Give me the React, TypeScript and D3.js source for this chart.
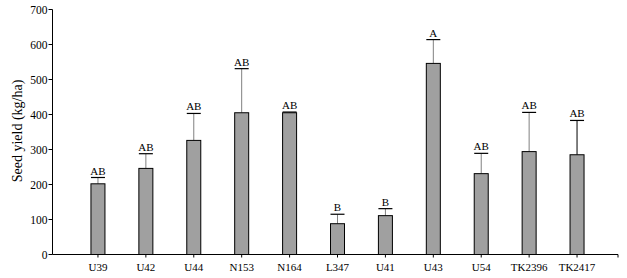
import React from 'react';
import * as d3 from 'd3';

const categories = ['U39', 'U42', 'U44', 'N153', 'N164', 'L347', 'U41', 'U43', 'U54', 'TK2396', 'TK2417'];
const yieldMeans = [202, 246, 326, 405, 405, 88, 111, 546, 231, 294, 285];
const yieldUpper = [220, 288, 403, 531, 407, 115, 131, 614, 289, 406, 383];
const groupLetters = ['AB', 'AB', 'AB', 'AB', 'AB', 'B', 'B', 'A', 'AB', 'AB', 'AB'];
const yTicks = [0, 100, 200, 300, 400, 500, 600, 700];

const W = 627;
const H = 278;
const FONT = '"Liberation Serif", "DejaVu Serif", serif';

export default function App() {
  // axis frame
  const axisX = 52.5;
  const axisY0 = 254.5;
  const axisX1 = 618;

  const y = d3.scaleLinear().domain([0, 700]).range([axisY0, 9.5]);
  const x = d3.scaleBand<string>().domain(categories).range([74, 601]);
  const barW = 14;

  return (
    <svg width={W} height={H} style={{ position: 'absolute', left: 0, top: 0, background: '#fff' }}>
      {/* y axis label */}
      <text
        transform={'translate(22,' + 131 + ') rotate(-90)'}
        textAnchor="middle"
        fontFamily={FONT}
        fontSize={14}
        fill="#000"
      >
        Seed yield (kg/ha)
      </text>

      {/* y axis */}
      <line x1={axisX} x2={axisX} y1={y(700)} y2={axisY0} stroke="#000" strokeWidth={1} />
      {yTicks.map((t) => (
        <g key={'yt' + t}>
          <line x1={axisX - 4} x2={axisX} y1={y(t)} y2={y(t)} stroke="#000" />
          <text x={axisX - 5} y={y(t) + 4} textAnchor="end" fontFamily={FONT} fontSize={11.5} fill="#000">
            {t}
          </text>
        </g>
      ))}

      {/* bars */}
      {categories.map((c, i) => {
        const cx = (x(c) as number) + x.bandwidth() / 2;
        const top = y(yieldMeans[i]);
        const capY = y(yieldUpper[i]);
        return (
          <g key={c}>
            <line x1={cx} x2={cx} y1={top} y2={capY} stroke={i === 10 ? '#000' : '#808080'} strokeWidth={1} />
            <line x1={cx - barW / 2} x2={cx + barW / 2} y1={capY} y2={capY} stroke="#000" strokeWidth={1.2} />
            <rect
              x={cx - barW / 2}
              y={top}
              width={barW}
              height={axisY0 - top}
              fill="#a0a0a0"
              stroke="#000"
              strokeWidth={1}
            />
            <text x={cx} y={capY - 3} textAnchor="middle" fontFamily={FONT} fontSize={11} fill="#000">
              {groupLetters[i]}
            </text>
          </g>
        );
      })}

      {/* x axis */}
      <line x1={axisX} x2={axisX1} y1={axisY0} y2={axisY0} stroke="#000" strokeWidth={1} />
      {categories.map((c) => {
        const cx = (x(c) as number) + x.bandwidth() / 2;
        return (
          <g key={'xt' + c}>
            <line x1={cx} x2={cx} y1={axisY0} y2={axisY0 + 3} stroke="#000" />
            <text x={cx} y={axisY0 + 16} textAnchor="middle" fontFamily={FONT} fontSize={11} fill="#000">
              {c}
            </text>
          </g>
        );
      })}
      <line x1={axisX1} x2={axisX1} y1={axisY0} y2={axisY0 + 3} stroke="#000" />
    </svg>
  );
}
